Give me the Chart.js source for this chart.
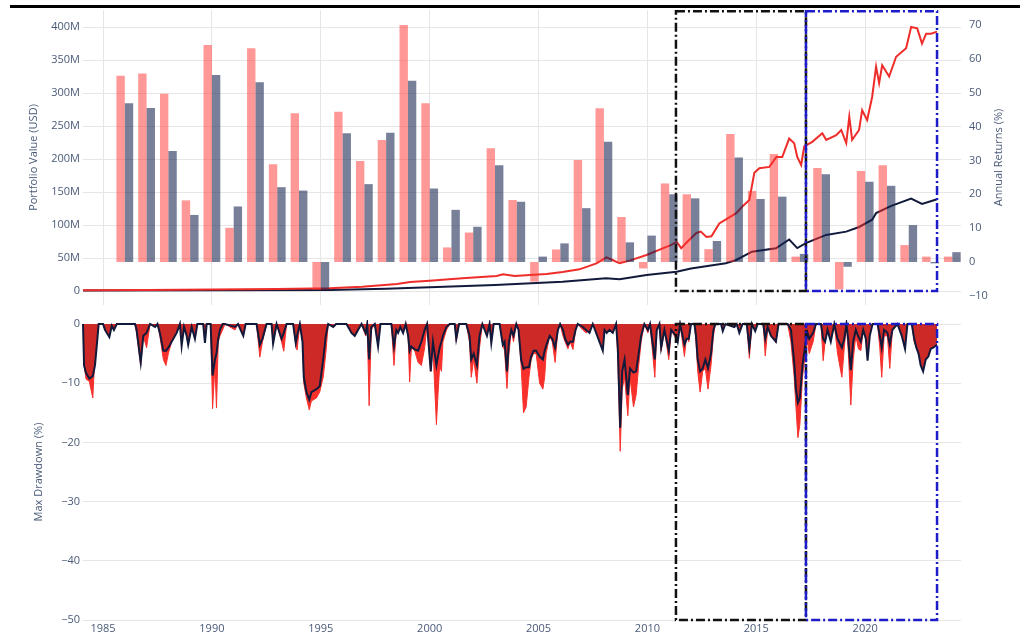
<!DOCTYPE html>
<html>
<head>
<meta charset="utf-8">
<script src="https://cdn.jsdelivr.net/npm/chart.js@4.4.1/dist/chart.umd.min.js"></script>
<style>
  html, body { margin: 0; padding: 0; background: #fff; }
  #wrap { position: relative; width: 1027px; height: 633px; overflow: hidden; }
  #topChart { position: absolute; left: 0; top: 0; }
  #ddChart { position: absolute; left: 0; top: 312px; }
  .rule { position: absolute; left: 10px; top: 5px; width: 1010px; height: 3px; background: #000; }
</style>
</head>
<body>
<div id="wrap">
  <canvas id="topChart" width="1027" height="315"></canvas>
  <canvas id="ddChart" width="1027" height="321"></canvas>
  <div class="rule"></div>
</div>
<script>
// Annual returns (%) – strategy vs benchmark, one pair per calendar year
const RETURN_YEARS = [1985,1986,1987,1988,1989,1990,1991,1992,1993,1994,
  1995,1996,1997,1998,1999,2000,2001,2002,2003,2004,
  2005,2006,2007,2008,2009,2010,2011,2012,2013,2014,
  2015,2016,2017,2018,2019,2020,2021,2022,2023];
const STRATEGY_RETURNS = [55.0,55.7,49.7,18.2,64.1,10.1,63.1,28.9,43.9,-8.2,
  44.4,29.8,36.0,70.0,46.9,4.3,8.7,33.6,18.3,-5.8,
  3.7,30.1,45.4,13.3,-1.9,23.2,20.0,3.8,37.8,21.0,
  31.9,1.6,27.8,-8.1,26.9,28.6,5.0,1.6,1.6];
const BENCHMARK_RETURNS = [46.9,45.5,32.8,13.9,55.2,16.4,53.1,22.1,21.1,-8.0,
  38.0,23.0,38.2,53.5,21.7,15.4,10.4,28.6,17.8,1.6,
  5.5,15.9,35.5,5.8,7.8,20.0,18.8,6.2,30.9,18.6,
  19.3,2.4,25.9,-1.4,23.7,22.5,10.9,-0.4,2.9];

// Portfolio value (millions USD)
const STRAT_VALUE_DATES = [1984.08,1987.0,1990.0,1993.0,1995.4,1996.9,1998.5,1999.1,2000.0,2001.5,
  2003.07,2003.37,2003.9,2004.6,2005.37,2006.1,2006.88,2007.66,2008.12,2008.4,
  2008.72,2009.18,2009.96,2010.7,2011.1,2011.34,2011.55,2011.9,2012.25,2012.45,
  2012.71,2012.94,2013.3,2014.08,2014.36,2014.68,2014.91,2015.14,2015.6,2015.92,
  2016.19,2016.51,2016.74,2016.88,2017.06,2017.2,2017.57,2018.03,2018.21,2018.67,
  2018.9,2019.13,2019.27,2019.4,2019.72,2019.86,2020.09,2020.32,2020.5,2020.64,
  2020.78,2021.1,2021.42,2021.88,2022.11,2022.39,2022.61,2022.8,2023.03,2023.3];
const STRAT_VALUE = [1.0,1.5,2.2,3.0,4.1,6.5,10.6,13.5,15.6,19.2,
  22.7,25.2,22.7,24.2,25.8,28.8,32.8,41.9,51,47,
  42,46,54.5,64.7,70,74.7,65,77,88,90,
  82,83,102.5,118,128,138,179,186,188,203,
  203,231,224,203,191,219,226,239,229,236,
  244,224,264,229,244,274,259,294,340,315,
  342,325,355,368,400,398,375,390,390,393];
const BENCH_VALUE_DATES = [1984.08,1990.0,1995.4,1998.0,2000.0,2003.0,2006.1,2008.1,2008.72,2009.96,
  2011.34,2012.0,2013.6,2014.08,2014.8,2015.9,2016.51,2016.88,2017.3,2018.21,
  2019.13,2019.72,2020.32,2020.5,2021.2,2022.11,2022.61,2023.3];
const BENCH_VALUE = [0.8,1.2,1.6,3.5,5.6,9.1,14,19.2,17.7,24.2,
  29.2,34,42,47,59.6,64.7,78,65,73,85,
  90,97,108,118,129,140,132,139];

// Drawdown (%) – both series share the same dates
const DD_DATES = [
  1984.08,1984.13,1984.22,1984.37,1984.53,1984.63,1984.74,1984.80,1985.00,1985.09,1985.29,1985.40,1985.50,1985.63,
  1986.47,1986.54,1986.73,1986.85,1987.00,1987.16,1987.39,1987.50,1987.61,1987.77,1987.89,
  1988.00,1988.15,1988.38,1988.53,1988.61,1988.72,1988.84,1988.91,1989.07,1989.22,1989.33,1989.60,1989.68,1989.76,1989.94,
  1990.03,1990.14,1990.21,1990.29,1990.37,1990.49,1990.60,1991.06,1991.20,1991.44,1991.55,
  1992.05,1992.20,1992.32,1992.51,1992.74,1992.81,1992.97,1993.20,1993.30,1993.43,1993.73,1993.85,1993.91,
  1994.04,1994.16,1994.22,1994.34,1994.47,1994.57,1994.80,1994.95,1995.11,1995.23,1995.34,1995.57,1995.70,
  1996.18,1996.41,1996.56,1996.71,1996.87,1997.06,1997.13,1997.22,1997.32,1997.48,1997.63,1997.74,
  1998.24,1998.36,1998.47,1998.55,1998.65,1998.78,1998.90,1999.01,1999.08,1999.16,1999.31,1999.47,1999.62,1999.77,1999.88,
  2000.05,2000.15,2000.31,2000.38,2000.46,2000.54,2000.61,2000.77,2000.92,2001.15,2001.22,2001.35,2001.68,2001.83,2001.91,
  2002.02,2002.17,2002.29,2002.42,2002.63,2002.75,2002.83,2002.94,2003.21,2003.36,2003.44,2003.55,2003.64,2003.75,2003.85,2003.98,
  2004.08,2004.20,2004.31,2004.43,2004.56,2004.66,2004.77,2004.89,2005.05,2005.20,2005.28,2005.35,2005.51,2005.63,2005.76,2005.89,2005.99,
  2006.12,2006.22,2006.35,2006.45,2006.58,2006.70,2006.80,2007.03,2007.19,2007.34,2007.49,2007.95,
  2008.03,2008.13,2008.26,2008.41,2008.56,2008.64,2008.75,2008.84,2008.95,2009.10,2009.20,2009.36,2009.48,2009.60,2009.71,2009.86,
  2010.02,2010.12,2010.34,2010.43,2010.55,2010.63,2010.78,2010.98,2011.09,2011.31,2011.39,2011.50,2011.70,2011.80,2011.90,
  2012.00,2012.16,2012.23,2012.31,2012.42,2012.54,2012.66,2012.78,2012.92,2013.03,2013.12,2013.38,2013.46,2013.58,2013.99,
  2014.10,2014.22,2014.37,2014.56,2014.68,2014.80,2014.95,2015.06,2015.32,2015.41,2015.52,2015.67,2015.90,
  2016.02,2016.44,2016.59,2016.74,2016.82,2016.91,2017.00,2017.12,2017.25,2017.35,2017.43,2017.61,2017.74,2017.97,
  2018.07,2018.16,2018.27,2018.42,2018.58,2018.73,2018.93,2019.04,2019.14,2019.23,2019.34,2019.45,2019.57,2019.69,2019.80,2019.91,
  2020.03,2020.11,2020.21,2020.34,2020.57,2020.67,2020.76,2020.87,2021.02,2021.13,2021.25,2021.48,2021.68,2021.83,2021.94,
  2022.14,2022.25,2022.35,2022.45,2022.55,2022.66,2022.78,2022.90,2023.01,2023.12,2023.30];
const DD_STRATEGY = [
  0,-7,-9.3,-9.7,-12.5,-5,-1,0,0,-1,-2.2,-0.3,-1,0,
  0,-1.5,-7,-2,-4,0,-0.5,0,-2,-6,-7,
  -5,-3,-1.5,0,-3,-0.5,-2,-3.5,-0.5,-2.5,0,0,-3.2,0,0,
  -14.3,-7,-14.2,-3,-2,-1,0,-1,0,-2,0,
  0,-5.6,-3,0,0,-3.3,0,-3,-4.6,0,0,-3.5,-4.4,
  0,-3,-10,-12.5,-14.5,-13,-12.5,-11.5,-9,-5,0,-0.5,0,
  0,-1.5,-2,-1,0,-2,0,-13.8,-1,0,-3.5,0,
  0,-7,-1,-1.5,-0.5,-1.5,0,-2,-9.8,-4,-4.5,-6.5,-7,-4,0,
  -8,-4,-17,-12,-7,-8,-3,-1,0,0,-3,0,0,-3,-9,
  -6,-10,-4,0,-2,0,-3.2,0,0,-3.5,-4.5,-10.9,-5,-1,-3,0,
  -1,-7,-15,-14,-9,-6,-5,-5,-10,-11,-9,-5,-2,-3,-6.5,-1,0,
  -2,-3,-4.2,-3,-4.3,-1,0,-1,-1.5,-1,0,-2,
  -1,-1.5,-1,-1.5,0,-6,-21.5,-11,-9,-15.5,-9,-14,-12,-7,-3,0,
  -1.5,0,-9,-1,0,-4.6,-1,-6,-1,-2.5,-3.2,0,-5.5,-2,-3,
  0,0,-3,-8,-11.5,-8,-7.5,-11,-7,-2,0,0,-1,0,-0.5,
  0,-1.2,0,0,-5.8,0,-1.2,0,0,-5.4,-1,-1.5,-3.2,
  0,0,-3,-9,-14,-19.2,-17,-9,-5,-3,-5,-3,0,0,
  -6.2,-3,-1,-2.5,0,-5,-9,-4,0,-5,-13.7,-6,-2,-4.2,-4.5,-1,
  -2,-4.5,-1,0,0,-4,-9,-2,-2,-7.5,-1,0,-1.5,-2,0,
  0,-3,-4,-4.5,-4.5,-5,-4.5,-4,-4,-3.5,-3.5];
const DD_BENCHMARK = [
  0,-7,-8.3,-9.2,-8.8,-7,-2.5,0,0,-1,-2.2,-0.3,-1,0,
  0,-1,-6.5,-2,-1.5,0,-0.5,0,-1.5,-4.5,-4.5,
  -4,-3,-1.5,0,-3.7,-0.5,-2,-3.5,-0.5,-2.5,0,0,-3.2,0,0,
  -8.7,-6,-5,-2.5,-1,0,0,-0.5,0,-2,0,
  0,-3.5,-2.5,0,0,-3.3,0,-2.5,-1.5,0,0,-3.2,-2,
  0,-3,-9,-11.5,-12.8,-11.5,-11,-10.5,-6,-2,0,-0.5,0,
  0,-1.5,-2,-1,0,-1.5,0,-6,-0.5,0,-3.8,0,
  0,-3.8,-1,-1.5,-0.5,-1.5,0,-2,-4.5,-3.8,-4.3,-4.5,-3,-1,0,
  -8,-3,-7,-5.5,-4,-3,-2,-0.5,0,0,-2.5,0,0,-2,-6,
  -5,-7,-2,0,-2,0,-3.2,0,0,-3.5,-3,-8,-3,-1,-2,0,
  -1,-6,-7.6,-7.3,-7.3,-5.5,-4.5,-4.5,-5.5,-6,-4.5,-3.7,-2,-2.5,-4,-1,0,
  -1,-2.5,-3.5,-3,-3,-1,0,-0.5,-1,-1.5,0,-4.5,
  -1,-1.5,-1,-1.5,0,-4,-17.5,-8,-6,-12,-7.5,-8.2,-8,-5,-2,0,
  -1,0,-6,-1,0,-4,-1,-4.5,-1,-2,-3,0,-3.5,-2.5,-2.5,
  0,0,-2,-6,-8,-7.5,-6,-7.5,-5,-1,0,0,-1.2,0,-0.5,
  0,-1.5,0,0,-4,0,-1.2,0,0,-2.5,-0.5,-2,-3,
  0,0,-1,-6.5,-11,-13.3,-12.5,-7,-3.5,-1.5,-2.5,-1.5,0,0,
  -2.5,-3,-1,-3,0,-2.5,-4,-2.5,0,-3,-7.8,-3,-1,-2.2,-3,-1,
  -2.5,-6.2,-2,0,0,-2,-4,-1,-1.5,-3.5,-1,0,-2,-4.2,0,
  0,-2.5,-4,-5,-7,-8,-6,-5.5,-4.2,-4,-3.5];

// Highlighted periods (dash-dot boxes)
const BOX_BLACK = [2011.31, 2017.28];
const BOX_BLUE = [2017.28, 2023.30];

const X_MIN = 1984.08, X_MAX = 2024.4;
const TEXT = '#4a5a78';
const GRID = '#e6e6e6';
const RED = '#ee2d2a';
const NAVY = '#121a3b';

Chart.defaults.font.family = "'Open Sans', sans-serif";
Chart.defaults.font.size = 11;
Chart.defaults.color = TEXT;

const minus = v => String(v).replace('-', '\u2212');
const pts = (xs, ys) => xs.map((x, i) => ({ x, y: ys[i] }));

// dash-dot rectangles for the two highlighted periods
function boxesPlugin(yId, yTop, yBottom) {
  return {
    id: 'boxes',
    afterDatasetsDraw(chart) {
      const { ctx } = chart;
      const xs = chart.scales.x, ys = chart.scales[yId];
      const top = ys.getPixelForValue(yTop), bottom = ys.getPixelForValue(yBottom);
      [[BOX_BLACK, '#111111'], [BOX_BLUE, '#1c1cc8']].forEach(([r, c]) => {
        const l = xs.getPixelForValue(r[0]), rt = xs.getPixelForValue(r[1]);
        ctx.save();
        ctx.strokeStyle = c;
        ctx.lineWidth = 2.5;
        ctx.setLineDash([9, 3, 2, 3]);
        ctx.strokeRect(l, top, rt - l, bottom - top);
        ctx.restore();
      });
    }
  };
}

// right axis title reads bottom-to-top
const rightTitle = {
  id: 'rightTitle',
  afterDraw(chart) {
    const { ctx, chartArea } = chart;
    ctx.save();
    ctx.translate(chart.width - 28, (chartArea.top + chartArea.bottom) / 2);
    ctx.rotate(-Math.PI / 2);
    ctx.fillStyle = TEXT;
    ctx.font = "11px 'Open Sans', sans-serif";
    ctx.textAlign = 'center';
    ctx.textBaseline = 'middle';
    ctx.fillText('Annual Returns (%)', 0, 0);
    ctx.restore();
  }
};

new Chart(document.getElementById('topChart'), {
  type: 'line',
  data: {
    datasets: [
      {
        type: 'bar', label: 'Strategy return',
        data: pts(RETURN_YEARS.map(y => y + 1), STRATEGY_RETURNS),
        yAxisID: 'yr', backgroundColor: 'rgba(255,50,45,0.5)',
        categoryPercentage: 0.77, barPercentage: 1, order: 1
      },
      {
        type: 'bar', label: 'Benchmark return',
        data: pts(RETURN_YEARS.map(y => y + 1), BENCHMARK_RETURNS),
        yAxisID: 'yr', backgroundColor: 'rgba(20,35,80,0.58)',
        categoryPercentage: 0.77, barPercentage: 1, order: 1
      },
      {
        label: 'Strategy value', data: pts(STRAT_VALUE_DATES, STRAT_VALUE),
        yAxisID: 'yv', borderColor: RED, borderWidth: 2, pointRadius: 0, tension: 0, order: 2
      },
      {
        label: 'Benchmark value', data: pts(BENCH_VALUE_DATES, BENCH_VALUE),
        yAxisID: 'yv', borderColor: NAVY, borderWidth: 2, pointRadius: 0, tension: 0, order: 2
      }
    ]
  },
  options: {
    responsive: false, animation: false,
    layout: { padding: { top: 10, bottom: 10, left: 0, right: 0 } },
    plugins: { legend: { display: false }, tooltip: { enabled: false } },
    scales: {
      x: {
        type: 'linear', min: X_MIN, max: X_MAX, offset: false,
        ticks: { display: false, stepSize: 5, includeBounds: false },
        grid: { color: GRID, drawTicks: false, offset: false }, border: { display: false },
        afterFit: s => { s.height = 0; }
      },
      yv: {
        position: 'left', min: -21.2, max: 425.8,
        ticks: { stepSize: 50, includeBounds: false, padding: 3, callback: v => v === 0 ? '0' : v + 'M' },
        grid: { color: GRID, drawTicks: false }, border: { display: false },
        title: { display: true, text: 'Portfolio Value (USD)', padding: { top: 27, bottom: 0 } },
        afterFit: s => { s.width = 83; }
      },
      yr: {
        position: 'right', min: -12.7, max: 74.43,
        ticks: { stepSize: 10, includeBounds: false, padding: 0, callback: minus },
        grid: { display: false }, border: { display: false },
        afterFit: s => { s.width = 66; }
      }
    }
  },
  plugins: [boxesPlugin('yv', 424, 0), rightTitle]
});

new Chart(document.getElementById('ddChart'), {
  type: 'line',
  data: {
    datasets: [
      {
        label: 'Benchmark drawdown', data: pts(DD_DATES, DD_BENCHMARK),
        borderColor: NAVY, borderWidth: 2, backgroundColor: '#cd2a27',
        fill: 'origin', pointRadius: 0, tension: 0, order: 1, clip: 4
      },
      {
        label: 'Strategy drawdown', data: pts(DD_DATES, DD_STRATEGY),
        borderColor: '#f8302c', borderWidth: 1, backgroundColor: '#f8302c',
        fill: 'origin', pointRadius: 0, tension: 0, order: 2
      }
    ]
  },
  options: {
    responsive: false, animation: false,
    layout: { padding: { top: 12, bottom: 0, left: 0, right: 66 } },
    plugins: { legend: { display: false }, tooltip: { enabled: false } },
    scales: {
      x: {
        type: 'linear', min: X_MIN, max: X_MAX,
        ticks: { stepSize: 5, includeBounds: false, padding: 2, maxRotation: 0, callback: v => String(v) },
        grid: { display: false, drawTicks: false }, border: { display: false },
        afterFit: s => { s.height = 13; }
      },
      y: {
        min: -50, max: 0,
        ticks: { stepSize: 10, padding: 3, callback: minus },
        grid: { color: GRID, drawTicks: false }, border: { display: false },
        title: { display: true, text: 'Max Drawdown (%)', padding: { top: 32, bottom: 0 } },
        afterFit: s => { s.width = 83; }
      }
    }
  },
  plugins: [boxesPlugin('y', 0, -50)]
});
</script>
</body>
</html>
